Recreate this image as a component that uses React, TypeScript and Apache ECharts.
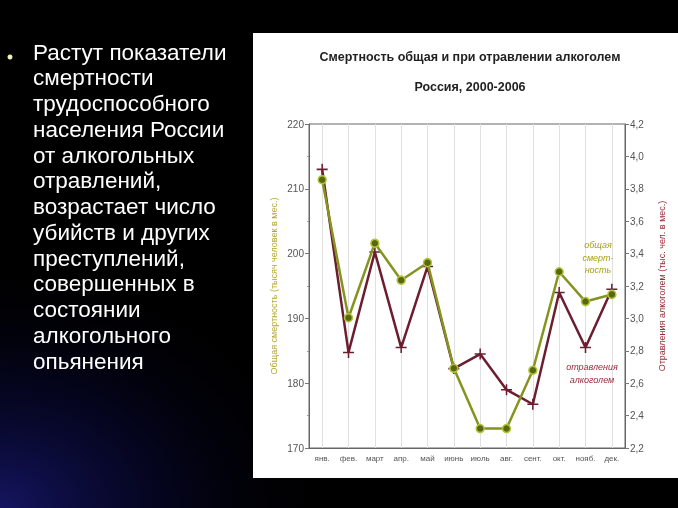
import React, { useEffect, useRef } from "react";
import * as echarts from "echarts";

const months = ["янв.", "фев.", "март", "апр.", "май", "июнь", "июль", "авг.", "сент.", "окт.", "нояб.", "дек."];
const totalMortality = [211.4, 190.1, 201.6, 195.9, 198.6, 182.3, 173.0, 173.0, 182.0, 197.2, 192.6, 193.7];
const alcoholPoisoning = [3.92, 2.79, 3.41, 2.82, 3.32, 2.69, 2.78, 2.56, 2.47, 3.16, 2.82, 3.18];
const bulletLines = [
  "Растут показатели",
  "смертности",
  "трудоспособного",
  "населения России",
  "от алкогольных",
  "отравлений,",
  "возрастает число",
  "убийств и других",
  "преступлений,",
  "совершенных в",
  "состоянии",
  "алкогольного",
  "опьянения",
];
const titleText = "Смертность общая и при отравлении алкоголем";
const subtitleText = "Россия, 2000-2006";
const leftAxisName = "Общая смертность (тысяч человек в мес.)";
const rightAxisName = "Отравления алкоголем (тыс. чел. в мес.)";
const noteTotal = ["общая", "смерт-", "ность"];
const notePoison = ["отравления", "алкоголем"];

const SANS = "'Liberation Sans', Arial, sans-serif";
const PLUS = "path://M4.3,0 L5.7,0 L5.7,4.3 L10,4.3 L10,5.7 L5.7,5.7 L5.7,10 L4.3,10 L4.3,5.7 L0,5.7 L0,4.3 L4.3,4.3 Z";

export default function App() {
  const ref = useRef<HTMLDivElement>(null);
  useEffect(() => {
    if (!ref.current) return;
    const chart = echarts.init(ref.current, null, { renderer: "svg" });
    const graphics: any[] = [
      { type: "rect", z: -20, shape: { x: 0, y: 0, width: 678, height: 508 }, style: { fill: "#000" } },
      {
        type: "rect", z: -19, shape: { x: 0, y: 0, width: 678, height: 508 },
        style: {
          fill: new echarts.graphic.RadialGradient(0.0, 1.0, 0.5, [
            { offset: 0, color: "rgba(28,28,130,0.75)" },
            { offset: 0.5, color: "rgba(12,12,80,0.35)" },
            { offset: 1, color: "rgba(0,0,0,0)" },
          ]),
        },
      },
      { type: "rect", z: -10, shape: { x: 253, y: 33, width: 425, height: 445 }, style: { fill: "#fff" } },
      { type: "circle", z: 5, shape: { cx: 10, cy: 57, r: 2.5 }, style: { fill: "#f4f0c0" } },
      {
        type: "text", z: 5, x: 470, y: 57,
        style: { text: titleText, font: `bold 12.5px ${SANS}`, fill: "#222", align: "center", verticalAlign: "middle" },
      },
      {
        type: "text", z: 5, x: 470, y: 87,
        style: { text: subtitleText, font: `bold 12.5px ${SANS}`, fill: "#222", align: "center", verticalAlign: "middle" },
      },
    ];
    bulletLines.forEach((t, i) => {
      graphics.push({
        type: "text", z: 5, x: 33, y: 52 + i * 25.75,
        style: { text: t, font: `22.5px ${SANS}`, fill: "#fff", align: "left", verticalAlign: "middle" },
      });
    });
    noteTotal.forEach((t, i) => {
      graphics.push({
        type: "text", z: 5, x: 598, y: 245 + i * 12.5,
        style: { text: t, font: `italic 9px ${SANS}`, fill: "#a8a018", align: "center", verticalAlign: "middle" },
      });
    });
    notePoison.forEach((t, i) => {
      graphics.push({
        type: "text", z: 5, x: 592, y: 367 + i * 12.5,
        style: { text: t, font: `italic 9px ${SANS}`, fill: "#9a2a3a", align: "center", verticalAlign: "middle" },
      });
    });

    chart.setOption({
      animation: false,
      backgroundColor: "transparent",
      graphic: graphics,
      grid: { left: 309, top: 124, width: 316, height: 324, show: true, borderColor: "#666", borderWidth: 1, backgroundColor: "transparent" },
      xAxis: {
        type: "category",
        data: months,
        boundaryGap: true,
        axisLine: { lineStyle: { color: "#666" } },
        axisTick: { alignWithLabel: true, interval: 0, length: 4, lineStyle: { color: "#777" } },
        axisLabel: { color: "#555", fontSize: 8, margin: 6, interval: 0, fontFamily: SANS },
        splitLine: { show: true, interval: 0, alignWithLabel: true, lineStyle: { color: "#e0e0e0", width: 1 } },
      },
      yAxis: [
        {
          type: "value", min: 170, max: 220, interval: 10, position: "left",
          axisLine: { show: true, lineStyle: { color: "#666" } },
          axisTick: { show: true, length: 4, lineStyle: { color: "#777" } },
          minorTick: { show: true, splitNumber: 2, length: 2, lineStyle: { color: "#999" } },
          axisLabel: { color: "#555", fontSize: 10, margin: 5, fontFamily: SANS },
          splitLine: { show: false },
          name: leftAxisName, nameLocation: "middle", nameGap: 31, nameRotate: 90,
          nameTextStyle: { color: "#b5a733", fontSize: 9, fontFamily: SANS },
        },
        {
          type: "value", min: 2.2, max: 4.2, interval: 0.2, position: "right",
          axisLine: { show: true, lineStyle: { color: "#666" } },
          axisTick: { show: true, length: 4, lineStyle: { color: "#777" } },
          axisLabel: { color: "#555", fontSize: 10, margin: 5, fontFamily: SANS, formatter: (v: number) => v.toFixed(1).replace(".", ",") },
          splitLine: { show: false },
          name: rightAxisName, nameLocation: "middle", nameGap: 32, nameRotate: 90,
          nameTextStyle: { color: "#9a2a3a", fontSize: 9, fontFamily: SANS },
        },
      ],
      series: [
        {
          type: "line", yAxisIndex: 1, data: alcoholPoisoning, z: 3,
          symbol: PLUS, symbolSize: 11,
          lineStyle: { color: "#6c1e30", width: 2.5 },
          itemStyle: { color: "#6c1e30" },
        },
        {
          type: "line", yAxisIndex: 0, data: totalMortality, z: 4,
          symbol: "circle", symbolSize: 8,
          lineStyle: { color: "#84941f", width: 2.5 },
          itemStyle: { color: "#566810", borderColor: "#b4c43a", borderWidth: 1.5 },
        },
      ],
    });
    return () => chart.dispose();
  }, []);
  return <div ref={ref} style={{ position: "fixed", left: 0, top: 0, width: 678, height: 508 }} />;
}
